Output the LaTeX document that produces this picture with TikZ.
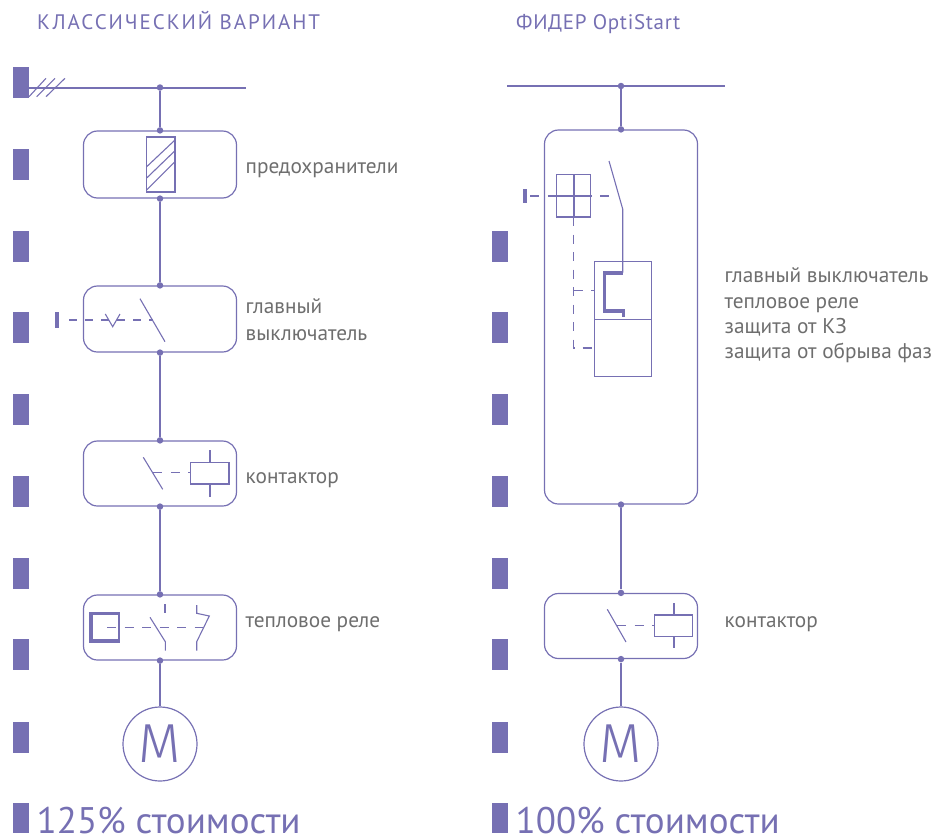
\documentclass[tikz,border=0pt]{standalone}
\usepackage{fontspec}
\setmainfont{PT Sans}
\newfontfamily\spacedfont[LetterSpace=9.3]{PT Sans}
\newfontfamily\feederfont[LetterSpace=3.2]{PT Sans}
\newfontfamily\motorfont{Fira Sans Light}
\definecolor{schemeviolet}{HTML}{7670B3}
\definecolor{labelgray}{HTML}{6E6E6E}
\tikzset{
  bar/.style={fill=schemeviolet, inner sep=0pt, minimum width=16pt, minimum height=31pt},
  unitbox/.style={draw=schemeviolet, line width=1.2pt, rounded corners=14pt, inner sep=0pt, minimum width=153pt},
  dot/.style={circle, fill=schemeviolet, inner sep=0pt, minimum size=6.5pt},
  wire/.style={draw=schemeviolet, line width=2pt},
  thin part/.style={draw=schemeviolet, line width=1.1pt},
  thick part/.style={draw=schemeviolet, line width=3.6pt},
  link/.style={draw=schemeviolet, line width=1.2pt, dash pattern=on 9pt off 8.5pt},
  motor/.style={draw=schemeviolet, line width=1.2pt, circle, inner sep=0pt, minimum size=74pt, text=schemeviolet, font=\motorfont\fontsize{55}{55}\selectfont},
  label/.style={anchor=base west, inner sep=0pt, text=labelgray, font=\fontsize{21.3}{25}\selectfont},
  heading/.style={anchor=base west, inner sep=0pt, text=schemeviolet, font=\fontsize{21}{24}\selectfont},
  price/.style={anchor=base west, inner sep=0pt, text=schemeviolet, font=\fontsize{37}{40}\selectfont}
}
\begin{document}
\begin{tikzpicture}[x=1pt, y=-1pt]
\useasboundingbox (0,0) rectangle (934,838);

\node[heading] (titleClassic) at (37,29.3) {\spacedfont КЛАССИЧЕСКИЙ ВАРИАНТ};
\node[heading] (titleFeeder) at (516,29.3) {\feederfont ФИДЕР OptiStart};

\node[bar] (barA) at (21,82.5) {};
\node[bar] (barB) at (21,164.5) {};
\node[bar] (barC) at (21,246.5) {};
\node[bar] (barD) at (21,327.5) {};
\node[bar] (barE) at (21,409.5) {};
\node[bar] (barF) at (21,491.5) {};
\node[bar] (barG) at (21,573.5) {};
\node[bar] (barH) at (21,654.5) {};
\node[bar] (barI) at (21,737) {};
\node[bar, minimum height=30pt] (barJ) at (21,818) {};
\node[bar] (barC2) at (500,246.5) {};
\node[bar] (barD2) at (500,327.5) {};
\node[bar] (barE2) at (500,409.5) {};
\node[bar] (barF2) at (500,491.5) {};
\node[bar] (barG2) at (500,573.5) {};
\node[bar] (barH2) at (500,654.5) {};
\node[bar] (barI2) at (500,737) {};
\node[bar, minimum height=30pt] (barJ2) at (500,818) {};

% left column
\node[unitbox, minimum height=67pt] (fuseUnit) at (160,164.5) {};
\node[unitbox, minimum height=66pt] (switchUnit) at (160,319) {};
\node[unitbox, minimum height=65pt] (contactorUnit) at (160,473.5) {};
\node[unitbox, minimum height=65pt] (relayUnit) at (160,627.5) {};
\node[motor] (motorA) at (160,744) {M};

\coordinate (busAleft) at (29,87.5);
\coordinate (busAright) at (246,87.5);
\node[dot] (busAdot) at (160,87.5) {};
\node[dot] (fuseTop) at (fuseUnit.north) {};
\node[dot] (fuseBottom) at (fuseUnit.south) {};
\node[dot] (switchTop) at (switchUnit.north) {};
\node[dot] (switchBottom) at (switchUnit.south) {};
\node[dot] (contactorTop) at (contactorUnit.north) {};
\node[dot] (contactorBottom) at (contactorUnit.south) {};
\node[dot] (relayTop) at (relayUnit.north) {};
\node[dot] (relayBottom) at (relayUnit.south) {};

\draw[wire] (busAleft) -- (busAright);
\draw[wire] (busAdot) -- (fuseTop);
\draw[wire] (fuseBottom) -- (switchTop);
\draw[wire] (switchBottom) -- (contactorTop);
\draw[wire] (contactorBottom) -- (relayTop);
\draw[wire] (relayBottom) -- (motorA);

\draw[thin part] (29,96.7) -- (46,78.3);
\draw[thin part] (36.7,96.7) -- (55,78.3);
\draw[thin part] (46,96.7) -- (65,78.3);

\draw[thin part] (146.7,137) rectangle (175,192);
\draw[thin part] (146.7,166.7) -- (175,140);
\draw[thin part] (146.7,178) -- (175,150.7);
\draw[thin part] (146.7,190) -- (175,161.7);

\node[fill=schemeviolet, inner sep=0pt, minimum width=4pt, minimum height=16pt] (handleA) at (57,320) {};
\draw[link, dash pattern=on 8pt off 8pt, shorten <=10pt] (handleA.east) -- (153,320);
\draw[thin part] (105.3,314) -- (112.7,326.7) -- (120,314);
\draw[thin part] (140,298.7) -- (165,341.7);

\draw[thin part] (143.3,457.3) -- (162.7,489.3);
\draw[link] (153.3,472.7) -- (190.7,472.7);
\draw[thin part] (190.7,462.3) rectangle (229,484);
\draw[thin part, line width=2pt] (210,450) -- (210,462.3);
\draw[thin part, line width=2pt] (210,484) -- (210,496.7);

\draw[thin part] (119,612) -- (119,642.7);
\draw[thick part] (119,613.5) -- (91,613.5) -- (91,641.2) -- (119,641.2);
\draw[link] (107,627.3) -- (203,627.3);
\draw[thin part] (150,617.3) -- (165.3,641.7) -- (165.3,650.7);
\draw[thin part, line width=2pt] (165.3,604) -- (165.3,612.7);
\draw[thin part] (196.7,605) -- (196.7,613.3) -- (209.3,616) -- (196.7,641.7) -- (196.7,650.7);

\node[label] (labelFuse) at (245.5,173.3) {предохранители};
\node[label] (labelSwitch) at (245.5,313.3) {главный};
\node[label] (labelSwitchB) at (245.5,340) {выключатель};
\node[label] (labelContactor) at (245.5,483.5) {контактор};
\node[label] (labelRelay) at (245.5,627.5) {тепловое реле};

% right column
\node[unitbox, minimum height=374pt] (feederUnit) at (621,317) {};
\node[unitbox, minimum height=65pt] (contactorUnitB) at (621,626) {};
\node[motor] (motorB) at (621,744) {M};

\coordinate (busBleft) at (507,86);
\coordinate (busBright) at (725,86);
\node[dot] (busBdot) at (621,86) {};
\node[dot] (feederTop) at (feederUnit.north) {};
\node[dot] (feederBottom) at (feederUnit.south) {};
\node[dot] (contactorTopB) at (contactorUnitB.north) {};
\node[dot] (contactorBottomB) at (contactorUnitB.south) {};

\draw[wire] (busBleft) -- (busBright);
\draw[wire] (busBdot) -- (feederTop);
\draw[wire] (feederBottom) -- (contactorTopB);
\draw[wire] (contactorBottomB) -- (motorB);

\node[fill=schemeviolet, inner sep=0pt, minimum width=3.7pt, minimum height=14pt] (handleB) at (525.2,196) {};
\draw[link, shorten <=3pt] (handleB.east) -- (617,196);
\draw[thin part] (556.7,174.3) rectangle (590.7,217);
\draw[thin part, line width=1.6pt] (573.7,174.3) -- (573.7,217);
\draw[thin part, line width=1.6pt] (556.7,196) -- (590.7,196);
\draw[thin part] (609,161) -- (622.7,209) -- (622.7,272.7);
\draw[thick part] (622.7,272.7) -- (604.3,272.7) -- (604.3,310.7) -- (623.3,310.7) -- (623.3,316.7);
\draw[thin part] (594.3,261.7) rectangle (651.7,319.3);
\draw[thin part] (594.3,319.3) rectangle (651.7,376.7);
\draw[link] (573.7,217) -- (573.7,348) -- (594.3,348);
\draw[link] (573.7,290.7) -- (594.3,290.7);

\draw[thin part] (607.3,609.3) -- (626,642);
\draw[link] (617,625.7) -- (654.3,625.7);
\draw[thin part] (654.3,615) rectangle (692.7,636.7);
\draw[thin part, line width=2pt] (674,603.3) -- (674,615);
\draw[thin part, line width=2pt] (674,636.7) -- (674,648.3);

\node[label] (labelFeederA) at (724.5,282.7) {главный выключатель};
\node[label] (labelFeederB) at (724.5,308) {тепловое реле};
\node[label] (labelFeederC) at (724.5,333) {защита от КЗ};
\node[label] (labelFeederD) at (724.5,358.5) {защита от обрыва фаз};
\node[label] (labelContactorB) at (724.5,627.5) {контактор};

\node[price] (priceClassic) at (36.5,833) {125\% стоимости};
\node[price] (priceFeeder) at (515.5,833) {100\% стоимости};
\end{tikzpicture}
\end{document}
